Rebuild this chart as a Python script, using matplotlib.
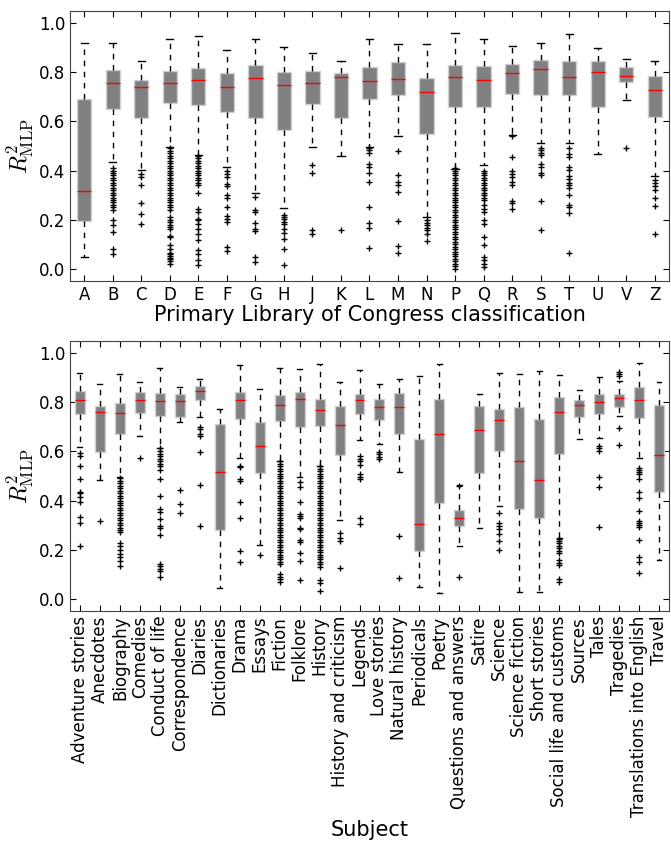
import matplotlib
matplotlib.use('Agg')
import matplotlib.pyplot as plt

plt.rcParams['font.family'] = ['DejaVu Sans']
plt.rcParams['mathtext.fontset'] = 'cm'

# ---- Library of Congress classes (top panel) ----
lcc_labels = ['A', 'B', 'C', 'D', 'E', 'F', 'G', 'H', 'J', 'K', 'L',
              'M', 'N', 'P', 'Q', 'R', 'S', 'T', 'U', 'V', 'Z']
lcc_whislo = [0.048, 0.435, 0.403, 0.494, 0.464, 0.415, 0.309, 0.248, 0.494, 0.460, 0.498,
              0.540, 0.212, 0.408, 0.422, 0.543, 0.513, 0.514, 0.467, 0.687, 0.377]
lcc_q1 = [0.195, 0.652, 0.615, 0.676, 0.669, 0.639, 0.616, 0.566, 0.673, 0.614, 0.690,
          0.707, 0.550, 0.659, 0.659, 0.713, 0.707, 0.706, 0.660, 0.759, 0.620]
lcc_med = [0.318, 0.755, 0.739, 0.755, 0.771, 0.739, 0.776, 0.748, 0.755, 0.780, 0.763,
           0.773, 0.720, 0.781, 0.770, 0.799, 0.814, 0.782, 0.800, 0.784, 0.727]
lcc_q3 = [0.691, 0.808, 0.771, 0.805, 0.816, 0.799, 0.830, 0.800, 0.807, 0.797, 0.820,
          0.842, 0.778, 0.830, 0.827, 0.833, 0.849, 0.846, 0.848, 0.820, 0.786]
lcc_whishi = [0.918, 0.921, 0.845, 0.935, 0.948, 0.890, 0.935, 0.903, 0.880, 0.846, 0.937,
              0.914, 0.914, 0.959, 0.935, 0.907, 0.921, 0.958, 0.901, 0.856, 0.845]
lcc_fliers = [
    [],
    [0.41, 0.40, 0.39, 0.38, 0.37, 0.36, 0.35, 0.34, 0.33, 0.32, 0.31, 0.30, 0.29,
     0.28, 0.27, 0.26, 0.25, 0.24, 0.20, 0.18, 0.15, 0.08, 0.06],
    [0.388, 0.374, 0.343, 0.269, 0.224, 0.181],
    [0.49, 0.48, 0.47, 0.46, 0.45, 0.44, 0.43, 0.42, 0.41, 0.40, 0.39, 0.38, 0.37,
     0.36, 0.35, 0.34, 0.33, 0.32, 0.31, 0.30, 0.29, 0.28, 0.27, 0.26, 0.25, 0.24,
     0.21, 0.20, 0.19, 0.18, 0.17, 0.16, 0.135, 0.13, 0.095, 0.08, 0.065, 0.06,
     0.05, 0.045, 0.04, 0.03, 0.02],
    [0.46, 0.45, 0.44, 0.43, 0.42, 0.41, 0.40, 0.39, 0.38, 0.37, 0.36, 0.35, 0.34,
     0.31, 0.245, 0.231, 0.204, 0.197, 0.184, 0.163, 0.143, 0.116, 0.075, 0.061,
     0.034, 0.014],
    [0.399, 0.388, 0.374, 0.347, 0.339, 0.30, 0.29, 0.252, 0.214, 0.204, 0.19,
     0.088, 0.072],
    [0.293, 0.238, 0.23, 0.186, 0.163, 0.154, 0.048, 0.027],
    [0.22, 0.211, 0.201, 0.19, 0.181, 0.163, 0.146, 0.12, 0.082, 0.016],
    [0.422, 0.39, 0.159, 0.143],
    [0.156],
    [0.49, 0.483, 0.472, 0.426, 0.415, 0.39, 0.355, 0.252, 0.186, 0.167, 0.084],
    [0.48, 0.381, 0.354, 0.34, 0.313, 0.195, 0.091, 0.064],
    [0.197, 0.188, 0.177, 0.166, 0.156, 0.143, 0.113],
    [0.41, 0.40, 0.39, 0.38, 0.37, 0.36, 0.35, 0.34, 0.33, 0.32, 0.31, 0.30, 0.29,
     0.28, 0.27, 0.26, 0.25, 0.24, 0.23, 0.22, 0.21, 0.20, 0.19, 0.18, 0.17, 0.16,
     0.15, 0.14, 0.13, 0.12, 0.11, 0.10, 0.09, 0.08, 0.07, 0.06, 0.05, 0.04, 0.03,
     0.02, 0.01, 0.0],
    [0.40, 0.39, 0.38, 0.37, 0.36, 0.35, 0.34, 0.33, 0.32, 0.31, 0.30, 0.29, 0.28,
     0.26, 0.245, 0.23, 0.197, 0.184, 0.129, 0.095, 0.048, 0.034, 0.02, 0.007],
    [0.54, 0.456, 0.399, 0.388, 0.374, 0.354, 0.34, 0.275, 0.268, 0.242],
    [0.493, 0.483, 0.473, 0.463, 0.426, 0.415, 0.392, 0.381, 0.275, 0.156],
    [0.493, 0.467, 0.456, 0.415, 0.401, 0.378, 0.367, 0.351, 0.34, 0.329, 0.302,
     0.261, 0.252, 0.227, 0.065],
    [],
    [0.49],
    [0.36, 0.35, 0.339, 0.32, 0.29, 0.254, 0.143],
]

# ---- Subjects (bottom panel) ----
subj_labels = ['Adventure stories', 'Anecdotes', 'Biography', 'Comedies', 'Conduct of life',
               'Correspondence', 'Diaries', 'Dictionaries', 'Drama', 'Essays', 'Fiction',
               'Folklore', 'History', 'History and criticism', 'Legends', 'Love stories',
               'Natural history', 'Periodicals', 'Poetry', 'Questions and answers', 'Satire',
               'Science', 'Science fiction', 'Short stories', 'Social life and customs',
               'Sources', 'Tales', 'Tragedies', 'Translations into English', 'Travel']
subj_whislo = [0.619, 0.483, 0.494, 0.661, 0.616, 0.718, 0.741, 0.045, 0.573, 0.220,
               0.561, 0.497, 0.540, 0.320, 0.646, 0.631, 0.518, 0.048, 0.024, 0.216,
               0.290, 0.377, 0.027, 0.026, 0.248, 0.649, 0.656, 0.746, 0.573, 0.156]
subj_q1 = [0.754, 0.597, 0.671, 0.756, 0.746, 0.739, 0.808, 0.279, 0.731, 0.512,
           0.722, 0.698, 0.702, 0.585, 0.752, 0.729, 0.672, 0.195, 0.388, 0.297,
           0.513, 0.603, 0.366, 0.328, 0.588, 0.741, 0.752, 0.782, 0.737, 0.435]
subj_med = [0.808, 0.762, 0.756, 0.808, 0.804, 0.804, 0.845, 0.518, 0.808, 0.623,
            0.790, 0.815, 0.767, 0.707, 0.808, 0.781, 0.780, 0.303, 0.672, 0.327,
            0.686, 0.727, 0.562, 0.484, 0.761, 0.788, 0.800, 0.816, 0.811, 0.586]
subj_q3 = [0.848, 0.784, 0.796, 0.841, 0.838, 0.833, 0.865, 0.710, 0.844, 0.718,
           0.830, 0.844, 0.814, 0.785, 0.834, 0.814, 0.838, 0.649, 0.814, 0.361,
           0.784, 0.771, 0.780, 0.731, 0.822, 0.811, 0.834, 0.833, 0.861, 0.788]
subj_whishi = [0.918, 0.876, 0.914, 0.884, 0.939, 0.864, 0.894, 0.774, 0.952, 0.854,
               0.939, 0.935, 0.958, 0.884, 0.932, 0.876, 0.894, 0.909, 0.958, 0.465,
               0.833, 0.918, 0.917, 0.929, 0.912, 0.849, 0.903, 0.888, 0.959, 0.884]
subj_fliers = [
    [0.592, 0.581, 0.540, 0.487, 0.435, 0.429, 0.415, 0.395, 0.333, 0.309, 0.214],
    [0.317],
    [0.49, 0.48, 0.47, 0.46, 0.45, 0.44, 0.43, 0.42, 0.41, 0.40, 0.39, 0.38, 0.37,
     0.36, 0.35, 0.34, 0.33, 0.32, 0.31, 0.30, 0.29, 0.28, 0.27, 0.229, 0.214,
     0.197, 0.184, 0.17, 0.154, 0.132],
    [0.574],
    [0.612, 0.60, 0.59, 0.58, 0.57, 0.56, 0.55, 0.54, 0.524, 0.487, 0.419, 0.365,
     0.354, 0.324, 0.297, 0.29, 0.26, 0.143, 0.132, 0.122, 0.113, 0.088],
    [0.442, 0.385, 0.351],
    [0.701, 0.690, 0.673, 0.663, 0.596, 0.463, 0.295],
    [],
    [0.54, 0.535, 0.487, 0.48, 0.395, 0.327, 0.195, 0.150],
    [0.180],
    [0.56, 0.55, 0.54, 0.53, 0.52, 0.51, 0.50, 0.49, 0.48, 0.47, 0.46, 0.45, 0.44,
     0.43, 0.42, 0.41, 0.40, 0.39, 0.38, 0.37, 0.36, 0.35, 0.34, 0.33, 0.32, 0.31,
     0.30, 0.29, 0.28, 0.27, 0.26, 0.25, 0.24, 0.23, 0.22, 0.21, 0.20, 0.19, 0.18,
     0.17, 0.16, 0.15, 0.14, 0.10, 0.09, 0.08, 0.07],
    [0.476, 0.456, 0.392, 0.344, 0.336, 0.327, 0.29, 0.282, 0.238, 0.23, 0.188,
     0.154, 0.075],
    [0.54, 0.53, 0.52, 0.51, 0.50, 0.49, 0.48, 0.47, 0.46, 0.45, 0.44, 0.43, 0.42,
     0.41, 0.40, 0.39, 0.38, 0.37, 0.36, 0.35, 0.34, 0.33, 0.32, 0.31, 0.30, 0.29,
     0.28, 0.27, 0.26, 0.25, 0.24, 0.23, 0.22, 0.21, 0.20, 0.19, 0.18, 0.17, 0.16,
     0.15, 0.14, 0.13, 0.075, 0.065, 0.03],
    [0.268, 0.249, 0.235, 0.127],
    [0.581, 0.571, 0.561, 0.544, 0.507, 0.497, 0.486, 0.327, 0.306],
    [0.599, 0.589, 0.578, 0.569],
    [0.256, 0.084],
    [],
    [],
    [0.46, 0.087],
    [],
    [0.35, 0.31, 0.297, 0.283, 0.263, 0.235, 0.197],
    [],
    [],
    [0.245, 0.235, 0.225, 0.215, 0.205, 0.195, 0.185, 0.156, 0.146, 0.136, 0.082,
     0.068],
    [],
    [0.623, 0.615, 0.603, 0.497, 0.454, 0.293],
    [0.925, 0.916, 0.907, 0.697, 0.627],
    [0.531, 0.524, 0.517, 0.51, 0.487, 0.435, 0.411, 0.358, 0.317, 0.309, 0.299,
     0.293, 0.238, 0.17, 0.15, 0.105],
    [],
]


def make_stats(labels, whislo, q1, med, q3, whishi, fliers):
    stats = []
    for i in range(len(labels)):
        stats.append({'label': labels[i], 'whislo': whislo[i], 'q1': q1[i],
                      'med': med[i], 'q3': q3[i], 'whishi': whishi[i],
                      'fliers': fliers[i]})
    return stats


def draw_panel(ax, stats):
    ax.bxp(stats, widths=0.5, patch_artist=True,
           boxprops=dict(facecolor='#808080', edgecolor='#d0d0d0', linewidth=1),
           medianprops=dict(color='red', linewidth=1),
           whiskerprops=dict(color='black', linestyle=(0, (4, 4)), linewidth=1),
           capprops=dict(color='black', linewidth=1),
           flierprops=dict(marker='+', markeredgecolor='black', markersize=5,
                           markeredgewidth=1, linestyle='none'))
    ax.set_xlim(0.5, len(stats) + 0.5)
    ax.set_ylim(-0.05, 1.05)
    ax.set_yticks([0.0, 0.2, 0.4, 0.6, 0.8, 1.0])
    ax.set_yticklabels(['0.0', '0.2', '0.4', '0.6', '0.8', '1.0'])
    ax.tick_params(direction='in', top=True, right=True, labelsize=12, length=4)
    ax.set_ylabel(r'$R^2_{\mathrm{MLP}}$', fontsize=17, labelpad=2)
    for s in ax.spines.values():
        s.set_color('#444444')


fig = plt.figure(figsize=(6.71, 8.48), dpi=100)
ax1 = fig.add_axes([0.1043, 0.6686, 0.8927, 0.3184])
ax2 = fig.add_axes([0.1043, 0.2795, 0.8927, 0.3184])

draw_panel(ax1, make_stats(lcc_labels, lcc_whislo, lcc_q1, lcc_med, lcc_q3,
                           lcc_whishi, lcc_fliers))
ax1.set_xlabel('Primary Library of Congress classification', fontsize=15, labelpad=1)

draw_panel(ax2, make_stats(subj_labels, subj_whislo, subj_q1, subj_med, subj_q3,
                           subj_whishi, subj_fliers))
ax2.set_xticklabels(subj_labels, rotation=90)
ax2.set_xlabel('Subject', fontsize=15, labelpad=2)

fig.savefig('out.png', dpi=100)
